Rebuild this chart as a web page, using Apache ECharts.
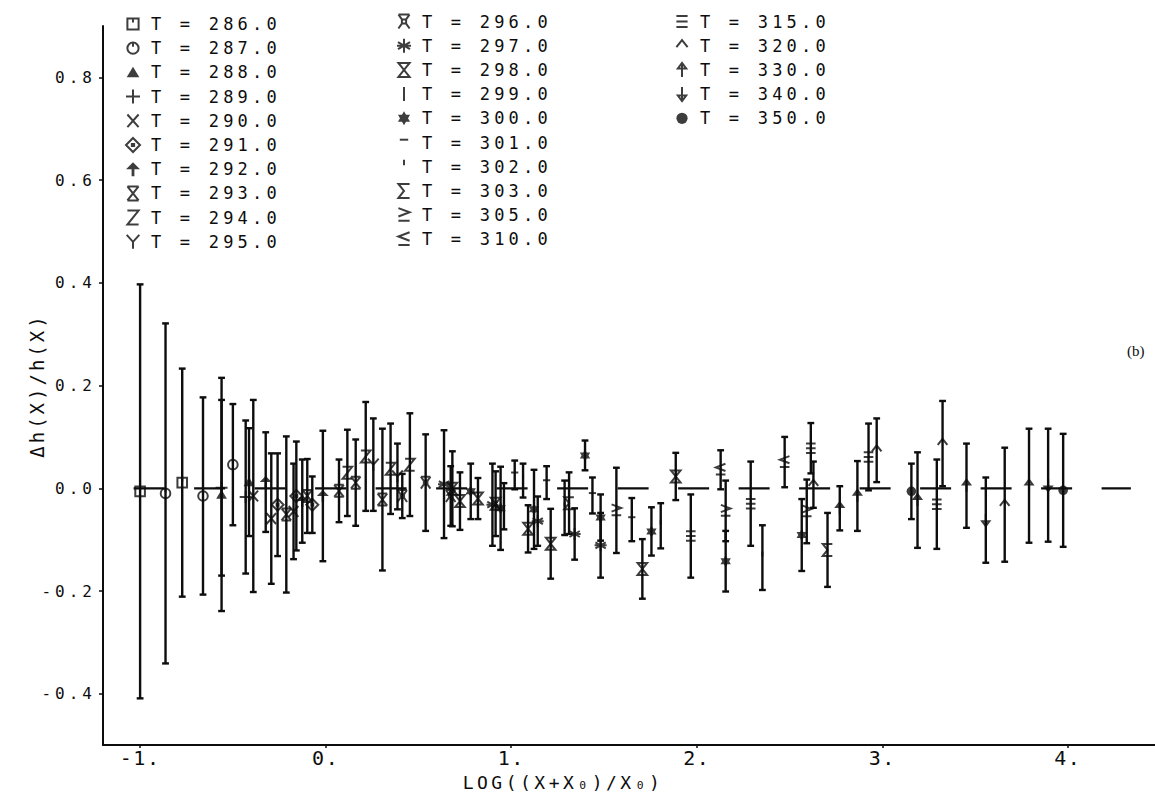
<!DOCTYPE html>
<html>
<head>
<meta charset="utf-8">
<script src="https://cdn.jsdelivr.net/npm/echarts@6/dist/echarts.min.js"></script>
<style>
  html, body { margin: 0; padding: 0; background: #fff; }
  #chart { width: 1155px; height: 796px; }
  /* plotter-style lettering: wide character spacing per text size */
  #chart text[style*="17px"] { letter-spacing: 4.2px; }
  #chart text[style*="16px"] { letter-spacing: 4px; }
  #chart text[style*="20px"] { letter-spacing: 1.5px; }
  #chart text[style*="18px"] { letter-spacing: 3.5px; }
  #chart text[style*="19px"] { letter-spacing: 3px; }
</style>
</head>
<body>
<div id="chart"></div>
<script>
// Temperatures shown in the key (three columns)
const keyColumn1 = [286, 287, 288, 289, 290, 291, 292, 293, 294, 295];
const keyColumn2 = [296, 297, 298, 299, 300, 301, 302, 303, 305, 310];
const keyColumn3 = [315, 320, 330, 340, 350];

// Points per temperature: [log((x+x0)/x0), dh/h, error half-width]
const T286 = [[-1.000, -0.006, 0.403], [-0.773, 0.011, 0.222]];
const T287 = [[-0.863, -0.010, 0.331], [-0.661, -0.015, 0.192], [-0.500, 0.046, 0.118]];
const T288 = [[-0.561, -0.012, 0.227], [-0.413, 0.012, 0.105]];
const T289 = [[-0.561, 0.001, 0.171], [-0.431, -0.017, 0.149]];
const T290 = [[-0.390, -0.015, 0.187], [-0.293, -0.059, 0.127], [-0.173, -0.045, 0.093]];
const T291 = [[-0.259, -0.032, 0.100], [-0.158, -0.015, 0.106], [-0.072, -0.032, 0.055]];
const T292 = [[-0.323, 0.012, 0.097], [-0.126, -0.025, 0.081], [-0.015, -0.015, 0.127]];
const T293 = [[-0.212, -0.051, 0.152], [-0.099, -0.015, 0.072], [0.072, -0.005, 0.061], [0.162, 0.011, 0.084], [0.306, -0.022, 0.138]];
const T294 = [[0.117, 0.030, 0.084], [0.216, 0.062, 0.106], [0.350, 0.038, 0.088], [0.454, 0.046, 0.100]];
const T295 = [[0.257, 0.046, 0.090], [0.387, 0.023, 0.064]];
const T296 = [[0.413, -0.015, 0.043], [0.539, 0.011, 0.094], [0.674, -0.015, 0.058]];
const T297 = [[0.638, 0.008, 0.105], [0.899, -0.032, 0.080], [1.143, -0.064, 0.048], [1.342, -0.089, 0.050], [1.482, -0.111, 0.063]];
const T298 = [[0.683, -0.001, 0.073], [0.724, -0.025, 0.056], [0.821, -0.020, 0.040], [0.916, -0.030, 0.063], [1.091, -0.079, 0.046], [1.213, -0.108, 0.068], [1.707, -0.157, 0.058], [1.887, 0.023, 0.046]];
const T299 = [[0.961, -0.035, 0.045]];
const T300 = [[0.782, -0.006, 0.054], [0.943, -0.039, 0.081], [1.123, -0.041, 0.077], [1.398, 0.064, 0.029], [1.482, -0.057, 0.045], [1.756, -0.084, 0.047], [2.156, -0.142, 0.059], [2.566, -0.091, 0.070]];
const T301 = [[1.019, 0.026, 0.028], [1.191, 0.011, 0.032], [1.438, -0.014, 0.035], [1.650, -0.061, 0.042]];
const T302 = [[1.064, 0.015, 0.033], [1.288, -0.038, 0.053], [1.806, -0.073, 0.044], [2.354, -0.135, 0.063]];
const T303 = [[1.312, -0.029, 0.060], [2.705, -0.120, 0.072]];
const T305 = [[1.567, -0.043, 0.083], [2.156, -0.044, 0.059], [2.593, -0.045, 0.062]];
const T310 = [[2.129, 0.036, 0.038], [2.474, 0.051, 0.049]];
const T315 = [[1.968, -0.093, 0.081], [2.291, -0.030, 0.082], [2.615, 0.078, 0.049], [2.926, 0.061, 0.065], [3.294, -0.031, 0.087]];
const T320 = [[2.629, 0.007, 0.045], [2.970, 0.074, 0.062], [3.325, 0.087, 0.083], [3.660, -0.032, 0.111]];
const T330 = [[2.771, -0.039, 0.043], [2.866, -0.015, 0.068], [3.190, -0.023, 0.093], [3.454, 0.005, 0.082], [3.791, 0.005, 0.111]];
const T340 = [[3.558, -0.062, 0.083], [3.894, 0.006, 0.110]];
const T350 = [[3.157, -0.006, 0.054], [3.975, -0.004, 0.110]];

// Reference level drawn as a dashed line at zero
const zeroLine = [[-1.035, 0], [4.34, 0]];

const pointsByTemp = {
  286: T286, 287: T287, 288: T288, 289: T289, 290: T290, 291: T291, 292: T292,
  293: T293, 294: T294, 295: T295, 296: T296, 297: T297, 298: T298, 299: T299,
  300: T300, 301: T301, 302: T302, 303: T303, 305: T305, 310: T310, 315: T315,
  320: T320, 330: T330, 340: T340, 350: T350
};

// Plotter glyphs, drawn in a -5..5 box (the leading moves fix the box size)
const BOX = 'M-5 -5M5 5';
const glyphs = {
  286: { d: 'M-4 -4H4V4H-4ZM0 -4V-1', fill: false },
  287: { d: 'M-4 0A4 4 0 1 0 4 0A4 4 0 1 0 -4 0ZM0 -4V-1', fill: false },
  288: { d: 'M0 -4L4.5 3.5H-4.5Z', fill: true },
  289: { d: 'M-5 0H5M0 -5V5', fill: false },
  290: { d: 'M-4 -4.5L4 4.5M4 -4.5L-4 4.5', fill: false },
  291: { d: 'M0 -5L5 0L0 5L-5 0ZM-0.8 -0.8H0.8V0.8H-0.8Z', fill: false },
  292: { d: 'M0 -5L5 0H1V5H-1V0H-5Z', fill: true },
  293: { d: 'M-4 -5H4M-4 5H4M-4 -5L4 5M4 -5L-4 5', fill: false },
  294: { d: 'M-4 -5H4L-4 5H4', fill: false },
  295: { d: 'M-4.5 -5L0 0L4.5 -5M0 0V5', fill: false },
  296: { d: 'M-4 -5H4M-4 -5L-1.5 -1.5M4 -5L1.5 -1.5M-4 5L-1.5 1.5M4 5L1.5 1.5M-1.5 -1.5H1.5V1.5H-1.5Z', fill: false },
  297: { d: 'M0 -5V5M-4.3 -2.5L4.3 2.5M4.3 -2.5L-4.3 2.5M-5 0H5', fill: false },
  298: { d: 'M-4 -5H4L-4 5H4Z', fill: false },
  299: { d: 'M0 -5V5', fill: false },
  300: { d: 'M0 -5L4.3 2.5H-4.3ZM0 5L-4.3 -2.5H4.3Z', fill: true },
  301: { d: 'M-3 -2H3', fill: false },
  302: { d: 'M0 -5V-1', fill: false },
  303: { d: 'M4 -5H-4L0 0L-4 5H4', fill: false },
  305: { d: 'M-4 -5L4 -2L-4 1M-4 4H4', fill: false },
  310: { d: 'M4 -5L-4 -2L4 1M-4 4H4', fill: false },
  315: { d: 'M-4 -4H4M-4 0H4M-4 4H4', fill: false },
  320: { d: 'M-4 1L0 -4L4 1', fill: false },
  330: { d: 'M0 5V-4M-3 -1L0 -5L3 -1Z', fill: false },
  340: { d: 'M0 -5V4M-3 1L0 5L3 1Z', fill: false },
  350: { d: 'M-4 0A4 4 0 1 0 4 0A4 4 0 1 0 -4 0Z', fill: true }
};

const allTemps = keyColumn1.concat(keyColumn2, keyColumn3);
const seriesName = t => 'T = ' + t.toFixed(1);

const ink = '#0d0d0d';
const monoFont = '"DejaVu Sans Mono", "Liberation Mono", monospace';

// Error bars for every point, one custom series
const errorData = [];
allTemps.forEach(t => pointsByTemp[t].forEach(p => errorData.push(p)));

const errorBars = {
  type: 'custom',
  name: 'error bars',
  data: errorData,
  encode: { x: 0, y: 1 },
  z: 3,
  silent: true,
  renderItem: (params, api) => {
    const x = api.value(0), y = api.value(1), e = api.value(2);
    const top = api.coord([x, y + e]);
    const bot = api.coord([x, y - e]);
    const cap = 3.4;
    const st = { stroke: ink, lineWidth: 2.4 };
    return {
      type: 'group',
      children: [
        { type: 'line', shape: { x1: top[0], y1: top[1], x2: bot[0], y2: bot[1] }, style: st },
        { type: 'line', shape: { x1: top[0] - cap, y1: top[1], x2: top[0] + cap, y2: top[1] }, style: st },
        { type: 'line', shape: { x1: bot[0] - cap, y1: bot[1], x2: bot[0] + cap, y2: bot[1] }, style: st }
      ]
    };
  }
};

const symbolSeries = allTemps.map(t => {
  const g = glyphs[t];
  return {
    type: 'scatter',
    name: seriesName(t),
    data: pointsByTemp[t].map(p => [p[0], p[1]]),
    symbol: 'path://' + BOX + g.d,
    symbolSize: 12,
    itemStyle: g.fill
      ? { color: ink, borderWidth: 0 }
      : { color: 'rgba(0,0,0,0)', borderColor: ink, borderWidth: 2 },
    z: 4,
    silent: true,
    emphasis: { disabled: true }
  };
});

const zeroSeries = {
  type: 'line',
  name: 'zero',
  data: zeroLine,
  symbol: 'none',
  silent: true,
  z: 2,
  lineStyle: { color: ink, width: 2.2, type: [31, 29.5] }
};

const keyLegend = (temps, left, top) => ({
  orient: 'vertical',
  left: left,
  top: top,
  itemWidth: 26,
  itemHeight: 14,
  itemGap: 6.2,
  selectedMode: false,
  data: temps.map(seriesName),
  textStyle: { fontFamily: monoFont, fontSize: 17, lineHeight: 18, color: ink }
});

const chart = echarts.init(document.getElementById('chart'), null, { renderer: 'svg' });

chart.setOption({
  animation: false,
  backgroundColor: '#fff',
  grid: { left: 103, right: 0, top: 26, bottom: 46, containLabel: false },
  legend: [
    keyLegend(keyColumn1, 120, 10),
    keyLegend(keyColumn2, 391, 7.5),
    keyLegend(keyColumn3, 669, 7.5)
  ],
  xAxis: {
    type: 'value',
    min: -1.2,
    max: 4.47,
    splitNumber: 6,
    splitLine: { show: false },
    axisLine: { onZero: false, lineStyle: { color: ink, width: 2 } },
    axisTick: { length: 3, lineStyle: { color: ink, width: 1.5 } },
    axisLabel: {
      showMinLabel: false,
      showMaxLabel: false,
      margin: 3,
      color: ink,
      fontFamily: monoFont,
      fontSize: 20,
      formatter: v => (Math.abs(v - Math.round(v)) < 1e-9 ? Math.round(v) + '.' : '')
    },
    name: 'LOG((X+X₀)/X₀)',
    nameLocation: 'middle',
    nameGap: 27,
    nameTextStyle: { color: ink, fontFamily: monoFont, fontSize: 18, padding: [0, 132, 0, 0] }
  },
  yAxis: {
    type: 'value',
    min: -0.5,
    max: 0.9,
    splitNumber: 7,
    splitLine: { show: false },
    axisLine: { onZero: false, lineStyle: { color: ink, width: 2 } },
    axisTick: { length: 4, lineStyle: { color: ink, width: 1.5 } },
    axisLabel: {
      showMinLabel: false,
      showMaxLabel: false,
      margin: 7,
      color: ink,
      fontFamily: monoFont,
      fontSize: 16,
      formatter: v => (Math.abs(v * 5 - Math.round(v * 5)) < 1e-9 ? v.toFixed(1) : '')
    },
    name: 'Δh(X)/h(X)',
    nameLocation: 'middle',
    nameGap: 53,
    nameTextStyle: { color: ink, fontFamily: monoFont, fontSize: 19 }
  },
  graphic: [
    {
      type: 'text',
      left: 1127,
      top: 343,
      style: { text: '(b)', font: '15px "Liberation Serif", "DejaVu Serif", serif', fill: ink }
    }
  ],
  series: [zeroSeries, errorBars].concat(symbolSeries)
});
</script>
</body>
</html>
